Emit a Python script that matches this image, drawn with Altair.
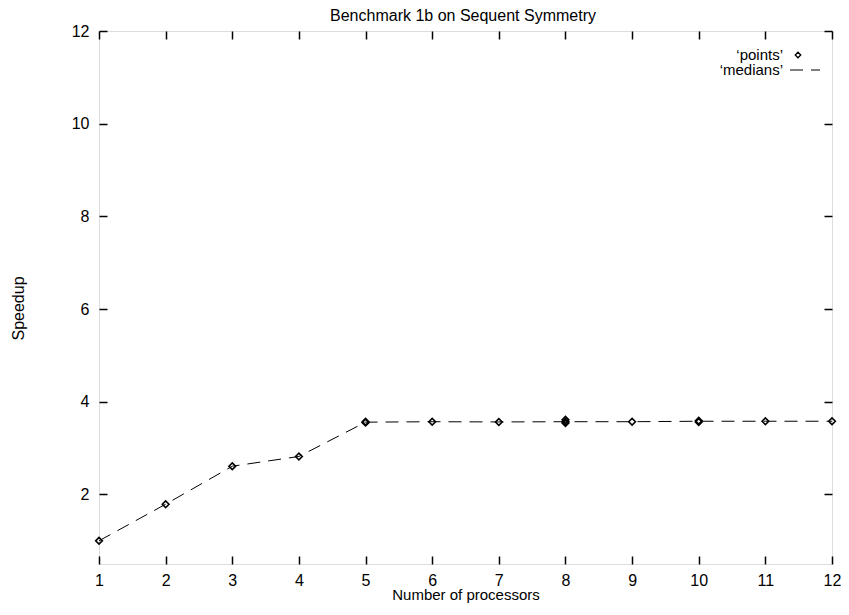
import altair as alt
import pandas as pd

# ---- data ----
processors = [1, 2, 3, 4, 5, 6, 7, 8, 9, 10, 11, 12]
medians = [1.0, 1.79, 2.61, 2.82, 3.56, 3.57, 3.565, 3.57, 3.57, 3.58, 3.58, 3.58]

points_x = [1, 2, 3, 4, 5, 5, 6, 7, 8, 8, 8, 9, 10, 10, 11, 12]
points_y = [1.0, 1.79, 2.61, 2.82, 3.55, 3.57, 3.57, 3.565, 3.54, 3.57, 3.61, 3.57, 3.565, 3.59, 3.58, 3.58]

x_ticks = list(range(1, 13))
y_ticks = [2, 4, 6, 8, 10, 12]
x_domain = [1, 12]
y_domain = [0.5, 12]

title_text = "Benchmark 1b on Sequent Symmetry"
x_title = "Number of processors"
y_title = "Speedup"
legend_labels = ["\u2018points\u2019", "\u2018medians\u2019"]

# ---- layout ----
W, H = 733, 533
FONT = "Liberation Sans"
FS = 16
TICK = 8

med_df = pd.DataFrame({"n": processors, "median": medians})
pts_df = pd.DataFrame({"n": points_x, "speedup": points_y})
one = pd.DataFrame({"a": [0]})

xs = alt.Scale(domain=x_domain, nice=False, zero=False)
ys = alt.Scale(domain=y_domain, nice=False, zero=False)

common = dict(domain=False, grid=False, tickSize=TICK, offset=-TICK, tickColor="black",
              tickWidth=1.5, labelFont=FONT, labelFontSize=FS, labelColor="black",
              titleFont=FONT, titleFontSize=FS, titleColor="black", titleFontWeight="normal",
              labelFlush=False, labelOverlap=False, format="d")

bottom_axis = alt.Axis(orient="bottom", values=x_ticks, labelPadding=8, title=x_title,
                       titleX=366.5, titleY=38.5, titleBaseline="middle", titleAlign="center",
                       **{**common, "titleFontSize": 15})
left_axis = alt.Axis(orient="left", values=y_ticks, labelPadding=10, title=y_title,
                     titleAngle=270, titleX=-88.5, titleY=277, titleBaseline="middle",
                     titleAlign="center", **common)
top_axis = alt.Axis(orient="top", values=x_ticks, labels=False, title=None, **common)
right_axis = alt.Axis(orient="right", values=y_ticks, labels=False, title=None, **common)

line = alt.Chart(med_df).mark_line(color="black", strokeWidth=1, strokeDash=[13, 8]).encode(
    x=alt.X("n:Q", scale=xs, axis=bottom_axis),
    y=alt.Y("median:Q", scale=ys, axis=left_axis),
)

pts = alt.Chart(pts_df).mark_point(shape="diamond", filled=False, color="black",
                                   strokeWidth=1.6, size=45, opacity=1).encode(
    x=alt.X("n:Q", scale=xs, axis=top_axis),
    y=alt.Y("speedup:Q", scale=ys, axis=right_axis),
)

# ---- chart title (drawn as text above the frame) ----
title_mark = alt.Chart(one).mark_text(align="center", baseline="alphabetic", font=FONT,
                                      fontSize=FS, color="black").encode(
    text=alt.value(title_text), x=alt.value(364), y=alt.value(-10.5))

# ---- gnuplot-style key (text on left, sample on right) ----
LFS = 15
leg_points_text = alt.Chart(one).mark_text(align="right", baseline="middle", font=FONT,
                                           fontSize=LFS, color="black").encode(
    text=alt.value(legend_labels[0]), x=alt.value(684), y=alt.value(24))
leg_med_text = alt.Chart(one).mark_text(align="right", baseline="middle", font=FONT,
                                        fontSize=LFS, color="black").encode(
    text=alt.value(legend_labels[1]), x=alt.value(684), y=alt.value(39))
leg_sym = alt.Chart(one).mark_point(shape="diamond", filled=False, color="black",
                                    strokeWidth=1.3, size=30, opacity=1).encode(
    x=alt.value(699), y=alt.value(24))
leg_dash = alt.Chart(one).mark_rule(color="black", strokeWidth=1, strokeDash=[13, 8]).encode(
    x=alt.value(691), x2=alt.value(721), y=alt.value(39))

chart = alt.layer(line, pts, title_mark, leg_points_text, leg_med_text, leg_sym,
                  leg_dash).resolve_axis(
    x="independent", y="independent"
).properties(
    width=W, height=H,
    autosize="none",
    padding={"left": 91, "top": 23, "right": 9, "bottom": 39},
).configure_view(stroke="black", strokeWidth=2).configure(background="white")

chart.save("out.html", embed_options={"renderer": "svg", "actions": False})
